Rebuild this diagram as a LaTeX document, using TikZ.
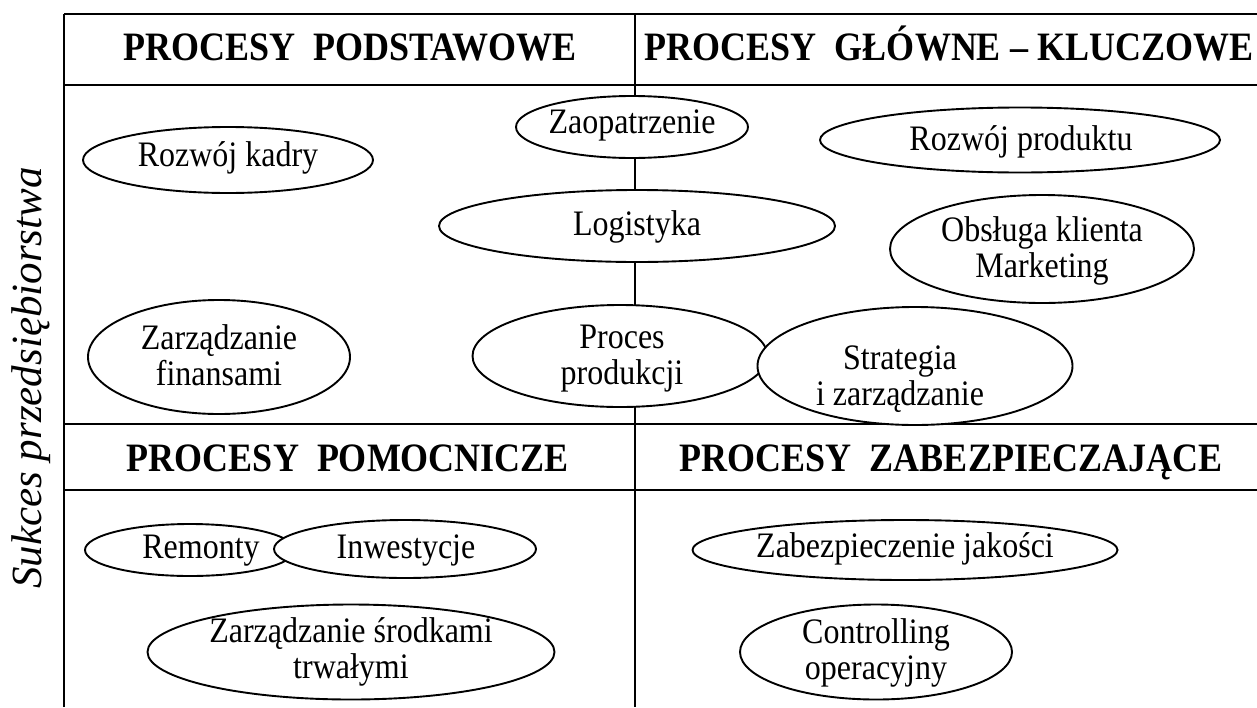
\documentclass[tikz,border=0pt]{standalone}
\usepackage{fontspec}
\usepackage{graphicx}
\setmainfont{Liberation Serif}
\usetikzlibrary{shapes.geometric}
% labels are set slightly taller than the font's natural proportions
\newcommand{\tallbox}[1]{\scalebox{1}[1.12]{\begin{tabular}{@{}c@{}}#1\end{tabular}}}
\newcommand{\tallhead}[1]{\scalebox{1}[1.12]{#1}}
\begin{document}
\begin{tikzpicture}[x=1pt,y=-1pt,
  gridline/.style={line width=2.4pt},
  proc/.style={ellipse, draw, line width=1.9pt, fill=white, inner sep=0pt},
  txt/.style={inner sep=0pt, font=\fontsize{32}{32}\selectfont},
  head/.style={inner sep=0pt, anchor=base, font=\fontsize{36}{40}\selectfont\bfseries},
  side/.style={inner sep=0pt, rotate=90, font=\fontsize{43}{46}\selectfont\itshape}]
\useasboundingbox (0,0) rectangle (1257,707);
\fill[white] (0,0) rectangle (1257,707);
\begin{scope}
\clip (0,0) rectangle (1257,707);
% table frame
\draw[gridline] (64,707) -- (64,14);
\draw[gridline] (635,14) -- (635,707);
\foreach \yy in {14,85,424,490}
  \draw[gridline] (64,\yy) -- (1262,\yy);
\end{scope}

% headers
\node[head] (h1) at (350,60) {\tallhead{PROCESY~~PODSTAWOWE}};
\node[head] (h2) at (949,60) {\tallhead{PROCESY~~GŁÓWNE – KLUCZOWE}};
\node[head] (h3) at (348,471) {\tallhead{PROCESY~~POMOCNICZE}};
\node[head] (h4) at (951,471) {\tallhead{PROCESY~~ZABEZPIECZAJĄCE}};

% side caption
\node[side] (sukces) at (31,378) {Sukces przedsiębiorstwa};

% upper part
\node[proc, minimum width=290, minimum height=66] (kadry) at (228,160) {};
\node[txt] (kadry-t) at (228,159) {\tallbox{Rozwój kadry}};

\node[proc, minimum width=232, minimum height=62] (zaop) at (632,127) {};
\node[txt] (zaop-t) at (632,126) {\tallbox{Zaopatrzenie}};

\node[proc, minimum width=396, minimum height=72] (logi) at (637,226) {};
\node[txt] (logi-t) at (637,228) {\tallbox{Logistyka}};

\node[proc, minimum width=400, minimum height=65] (prod) at (1020,140) {};
\node[txt] (prod-t) at (1021,143) {\tallbox{Rozwój produktu}};

\node[proc, minimum width=304, minimum height=108] (klient) at (1042,249) {};
\node[txt] (klient-t) at (1042,252) {\tallbox{Obsługa klienta\\Marketing}};

\node[proc, minimum width=262, minimum height=114] (fin) at (219,357) {};
\node[txt] (fin-t) at (219,360) {\tallbox{Zarządzanie\\finansami}};

\node[proc, minimum width=295, minimum height=102] (proces) at (620,356) {};
\node[txt] (proces-t) at (622,359) {\tallbox{Proces\\produkcji}};

\node[proc, minimum width=315, minimum height=118] (strat) at (915,366) {};
\node[txt] (strat-t) at (900,380) {\tallbox{Strategia\\i zarządzanie}};

% lower part
\node[proc, minimum width=210, minimum height=52] (remonty) at (190,550) {};
\node[txt] (remonty-t) at (201,551) {\tallbox{Remonty}};

\node[proc, minimum width=262, minimum height=58] (inw) at (405,549) {};
\node[txt] (inw-t) at (406,551) {\tallbox{Inwestycje}};

\node[proc, minimum width=407, minimum height=95] (trwale) at (351,652) {};
\node[txt] (trwale-t) at (351,653) {\tallbox{Zarządzanie środkami\\trwałymi}};

\node[proc, minimum width=425, minimum height=60] (jakosc) at (905,550) {};
\node[txt] (jakosc-t) at (905,550) {\tallbox{Zabezpieczenie jakości}};

\node[proc, minimum width=272, minimum height=95] (contr) at (876,652) {};
\node[txt] (contr-t) at (876,654) {\tallbox{Controlling\\operacyjny}};
\end{tikzpicture}
\end{document}
